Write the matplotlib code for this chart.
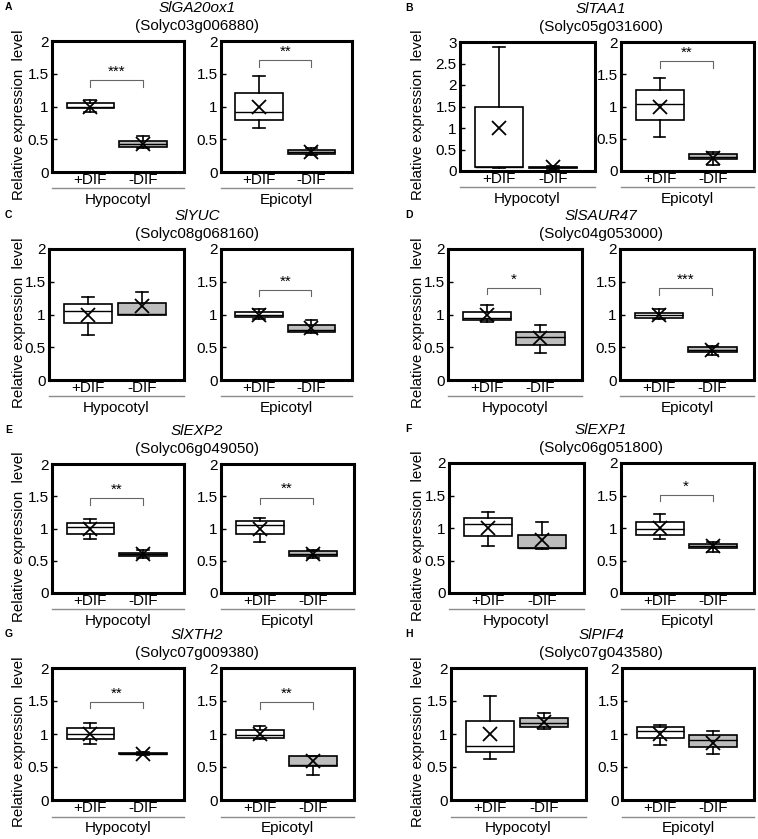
import numpy as np
import matplotlib.pyplot as plt
from matplotlib.ticker import FormatStrFormatter

plt.rcParams['font.family'] = ['Liberation Sans', 'DejaVu Sans']

# panel info
letters = ["A", "B", "C", "D", "E", "F", "G", "H"]
genes = ["SlGA20ox1", "SlTAA1", "SlYUC", "SlSAUR47", "SlEXP2", "SlEXP1", "SlXTH2", "SlPIF4"]
loci = ["Solyc03g006880", "Solyc05g031600", "Solyc08g068160", "Solyc04g053000",
        "Solyc06g049050", "Solyc06g051800", "Solyc07g009380", "Solyc07g043580"]
groups = ["+DIF", "-DIF"]
organs = ["Hypocotyl", "Epicotyl"]

# box stats: (whisker low, q1, median, q3, whisker high, mean)
hyp_plus = [(0.92, 0.97, 1.00, 1.05, 1.10, 1.00),
            (0.07, 0.10, 0.10, 1.48, 2.88, 1.00),
            (0.68, 0.87, 1.06, 1.16, 1.27, 1.00),
            (0.89, 0.91, 0.94, 1.04, 1.15, 1.00),
            (0.84, 0.92, 1.03, 1.08, 1.14, 1.00),
            (0.73, 0.88, 1.06, 1.15, 1.24, 1.00),
            (0.85, 0.93, 1.00, 1.09, 1.17, 1.00),
            (0.62, 0.73, 0.82, 1.20, 1.58, 1.00)]
hyp_minus = [(0.36, 0.38, 0.42, 0.47, 0.55, 0.42),
             (0.05, 0.08, 0.09, 0.10, 0.12, 0.09),
             (1.00, 1.00, 1.01, 1.18, 1.34, 1.13),
             (0.41, 0.53, 0.65, 0.74, 0.84, 0.64),
             (0.55, 0.58, 0.60, 0.62, 0.66, 0.60),
             (0.67, 0.69, 0.69, 0.89, 1.09, 0.82),
             (0.68, 0.69, 0.70, 0.71, 0.72, 0.70),
             (1.08, 1.11, 1.16, 1.24, 1.32, 1.18)]
epi_plus = [(0.665, 0.80, 0.92, 1.20, 1.46, 1.00),
            (0.53, 0.79, 1.04, 1.25, 1.44, 1.00),
            (0.93, 0.96, 1.00, 1.04, 1.08, 1.00),
            (0.93, 0.95, 0.99, 1.03, 1.08, 1.00),
            (0.79, 0.92, 1.05, 1.11, 1.16, 1.00),
            (0.83, 0.90, 0.98, 1.09, 1.21, 1.00),
            (0.93, 0.94, 0.99, 1.06, 1.12, 1.00),
            (0.84, 0.94, 1.05, 1.10, 1.14, 1.00)]
epi_minus = [(0.26, 0.28, 0.31, 0.34, 0.37, 0.31),
             (0.09, 0.18, 0.22, 0.27, 0.30, 0.20),
             (0.72, 0.74, 0.77, 0.84, 0.91, 0.79),
             (0.38, 0.43, 0.46, 0.50, 0.52, 0.46),
             (0.54, 0.58, 0.61, 0.65, 0.67, 0.61),
             (0.63, 0.69, 0.72, 0.75, 0.79, 0.72),
             (0.38, 0.52, 0.53, 0.67, 0.67, 0.59),
             (0.70, 0.80, 0.91, 0.98, 1.04, 0.87)]
hyp_ymax = [2, 3, 2, 2, 2, 2, 2, 2]
epi_ymax = [2, 2, 2, 2, 2, 2, 2, 2]
hyp_sig = ["***", None, None, "*", "**", None, "**", None]
hyp_sig_y = [1.40, None, None, 1.41, 1.47, None, 1.49, None]
epi_sig = ["**", "**", "**", "***", "**", "*", "**", None]
epi_sig_y = [1.71, 1.70, 1.38, 1.40, 1.48, 1.51, 1.48, None]

# axes boxes in pixels (left, top, right, bottom)
hyp_px = [(52, 41, 184, 172), (460, 42, 595, 171), (49, 249, 184, 380), (448, 249, 582, 380),
          (52, 464, 184, 593), (449, 463, 584, 593), (52, 668, 184, 800), (451, 668, 586, 800)]
epi_px = [(221, 41, 352, 172), (621, 42, 754, 171), (221, 249, 352, 380), (620, 249, 754, 380),
          (221, 464, 354, 593), (621, 463, 754, 593), (221, 668, 354, 800), (622, 668, 754, 800)]

W, H = 758, 839
fig = plt.figure(figsize=(W / 100, H / 100), dpi=100)
FS = 11


def add_ax(box):
    l, t, r, b = box
    return fig.add_axes([l / W, 1 - b / H, (r - l) / W, (b - t) / H])


def draw(ax, plus, minus, ymax, sig, sig_y, organ):
    stats = []
    for s, lab in zip((plus, minus), groups):
        lo, q1, med, q3, hi, mean = s
        stats.append(dict(whislo=lo, q1=q1, med=med, q3=q3, whishi=hi, mean=mean, label=lab))
    lp = dict(color="black", linewidth=1.2)
    bp = ax.bxp(stats, positions=[1, 2], widths=0.9, showmeans=True, showfliers=False,
                patch_artist=True, capwidths=0.22,
                boxprops=dict(edgecolor="black", linewidth=1.2),
                medianprops=dict(color="black", linewidth=1.0), whiskerprops=lp, capprops=lp,
                meanprops=dict(marker="x", markersize=10, markeredgecolor="black",
                               markeredgewidth=1.3))
    bp["boxes"][0].set_facecolor("white")
    bp["boxes"][1].set_facecolor("#bdbdbd")
    ax.set_xlim(0.275, 2.775)
    ax.set_ylim(0, ymax)
    ax.set_yticks(np.arange(0, ymax + 0.01, 0.5))
    ax.yaxis.set_major_formatter(FormatStrFormatter("%g"))
    ax.tick_params(axis="y", direction="in", length=3.5, width=1, labelsize=FS, pad=2.5)
    ax.tick_params(axis="x", length=0, labelsize=FS, pad=1)
    for sp in ax.spines.values():
        sp.set_linewidth(2.2)
    if sig:
        d = 0.1 * ymax / 2
        ax.plot([1, 1, 2, 2], [sig_y - d, sig_y, sig_y, sig_y - d], color="#666666", lw=0.8)
        ax.text(1.5, sig_y + 0.01 * ymax, sig, ha="center", va="bottom", fontsize=FS)
    ax.plot([0, 1], [-0.125, -0.125], transform=ax.transAxes, clip_on=False,
            color="#8c8c8c", lw=1)
    ax.text(0.5, -0.215, organ, transform=ax.transAxes, ha="center", va="center", fontsize=FS)


for i in range(8):
    ah = add_ax(hyp_px[i])
    ae = add_ax(epi_px[i])
    draw(ah, hyp_plus[i], hyp_minus[i], hyp_ymax[i], hyp_sig[i], hyp_sig_y[i], organs[0])
    draw(ae, epi_plus[i], epi_minus[i], epi_ymax[i], epi_sig[i], epi_sig_y[i], organs[1])

    top = hyp_px[i][1]
    col2 = i % 2 == 1
    xc = 601 if col2 else 197
    fig.text(xc / W, 1 - (top - 33) / H, genes[i], style="italic", ha="center", va="center",
             fontsize=FS)
    fig.text(xc / W, 1 - (top - 15) / H, "(" + loci[i] + ")", ha="center", va="center",
             fontsize=FS)
    yl_x = 418 if col2 else 19
    yc = (hyp_px[i][1] + hyp_px[i][3]) / 2 + 8
    fig.text(yl_x / W, 1 - yc / H, "Relative expression  level", rotation=90,
             ha="center", va="center", fontsize=10.8)
    lx = 405 if col2 else 5
    fig.text(lx / W, 1 - (top - 34) / H, letters[i], fontweight="bold", ha="left",
             va="center", fontsize=7.5)

fig.savefig("out.png", dpi=100)
